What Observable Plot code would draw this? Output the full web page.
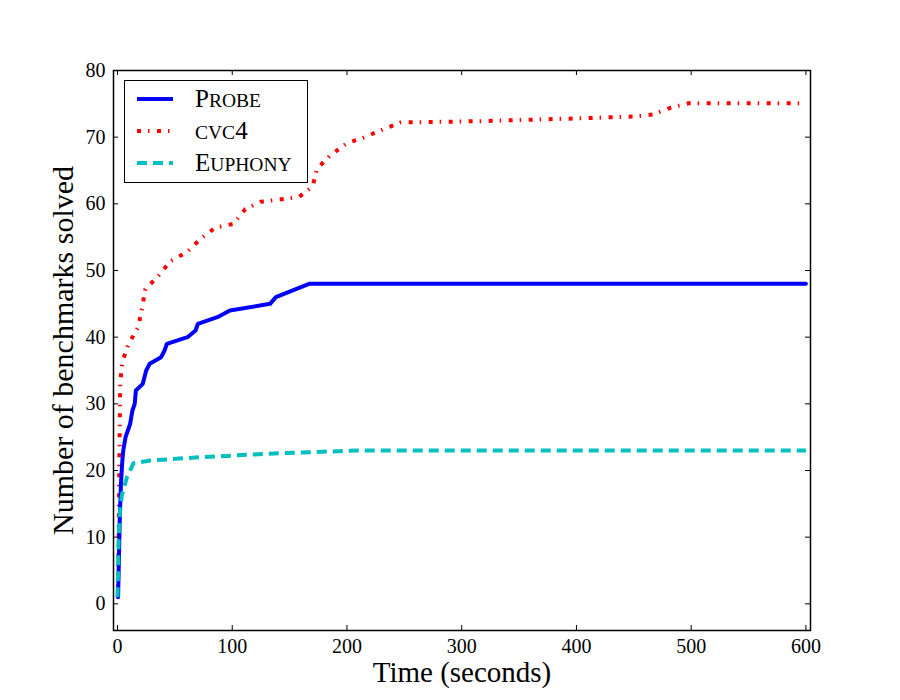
<!DOCTYPE html>
<html>
<head>
<meta charset="utf-8">
<script src="https://cdn.jsdelivr.net/npm/d3@7"></script>
<script src="https://cdn.jsdelivr.net/npm/@observablehq/plot@0.6"></script>
<style>
  html, body { margin: 0; padding: 0; background: #fff; }
  #chart { position: relative; width: 900px; height: 700px; }
  #legend {
    position: absolute; left: 124px; top: 80px; width: 184px; height: 103px;
    border: 1.5px solid #000; background: #fff; box-sizing: border-box;
    font-family: "Liberation Serif", serif; font-size: 25px;
  }
  .row { position: absolute; left: 0; height: 30px; display: flex; align-items: center; white-space: nowrap; }
  .row svg { margin-left: 12px; }
  .row span.lab { margin-left: 22px; }
  .sc { font-size: 19.5px; }
</style>
</head>
<body>
<div id="chart"></div>
<script>
// Series: time (s) and number of benchmarks solved
const probeTime = [0.5, 1, 2, 3, 4, 5, 7, 9, 11, 13, 15, 16, 22, 25, 28, 38, 41, 43, 61, 68, 70, 87, 98, 133, 138, 167, 600];
const probeSolved = [1, 5, 13, 18, 21, 23, 25, 26, 27, 29, 30, 32, 33, 35, 36, 37, 38, 39, 40, 41, 42, 43, 44, 45, 46, 48, 48];

const cvc4Time = [0.3, 1, 1.5, 2, 2.4, 4.2, 9.4, 18, 21.3, 24.3, 35.7, 46, 60.8, 72, 85, 101, 111.4, 124.5, 157.8, 170, 174, 185.6, 200, 214, 232, 246.6, 316, 398, 450, 466.7, 482, 498, 600];
const cvc4Solved = [1, 10, 20, 28, 33.2, 36.3, 38.9, 41.5, 44.3, 47.2, 49.2, 51.4, 52.8, 54.7, 56.4, 57, 59.2, 60.3, 61, 62.6, 65.3, 67.3, 69.1, 69.9, 71.2, 72.2, 72.4, 72.8, 73.1, 73.4, 74.4, 75.1, 75.1];

const euphonyTime = [0, 0.5, 1, 2, 3.8, 8.2, 14, 28.5, 72, 142, 210, 600];
const euphonySolved = [1, 5, 10, 13.5, 16.3, 19, 21.1, 21.5, 22, 22.6, 23, 23];

const xTicks = [0, 100, 200, 300, 400, 500, 600];
const yTicks = [0, 10, 20, 30, 40, 50, 60, 70, 80];

const xLabel = "Time (seconds)";
const yLabel = "Number of benchmarks solved";

const seriesNames = ["Probe", "cvc4", "Euphony"];
const seriesColors = ["#0000ff", "#ff0000", "#00bfbf"];
const seriesDash = [null, "4,7,1.5,7.5", "10,6"];

const toRows = (t, v) => t.map((d, i) => ({t: d, v: v[i]}));
const rows = [toRows(probeTime, probeSolved), toRows(cvc4Time, cvc4Solved), toRows(euphonyTime, euphonySolved)];

const W = 900, H = 700, mL = 113, mR = 90, mT = 70, mB = 70;
const innerW = W - mL - mR, innerH = H - mT - mB;
const tick = 5;

const plot = Plot.plot({
  width: W, height: H,
  marginLeft: mL, marginRight: mR, marginTop: mT, marginBottom: mB,
  style: {fontFamily: "'Liberation Serif', serif", fontSize: "20px", background: "#fff", color: "#000"},
  x: {domain: [-3.5, 604], ticks: xTicks},
  y: {domain: [-4, 80], ticks: yTicks},
  marks: [
    Plot.line(rows[1], {x: "t", y: "v", stroke: seriesColors[1], strokeWidth: 4, strokeDasharray: seriesDash[1], strokeLinecap: "butt"}),
    Plot.line(rows[0], {x: "t", y: "v", stroke: seriesColors[0], strokeWidth: 4}),
    Plot.line(rows[2], {x: "t", y: "v", stroke: seriesColors[2], strokeWidth: 4, strokeDasharray: seriesDash[2], strokeLinecap: "butt"}),
    // inward ticks on all four sides
    Plot.tickX(xTicks, {x: d => d, insetTop: innerH - tick, stroke: "#000", strokeWidth: 1}),
    Plot.tickX(xTicks, {x: d => d, insetBottom: innerH - tick, stroke: "#000", strokeWidth: 1}),
    Plot.tickY(yTicks, {y: d => d, insetRight: innerW - tick, stroke: "#000", strokeWidth: 1}),
    Plot.tickY(yTicks, {y: d => d, insetLeft: innerW - tick, stroke: "#000", strokeWidth: 1}),
    Plot.axisX(xTicks, {tickSize: 0, tickPadding: 8, label: null, fontSize: 20}),
    Plot.axisY(yTicks, {tickSize: 0, tickPadding: 8, label: null, fontSize: 20}),
    Plot.frame({stroke: "#000", strokeWidth: 1.5}),
    Plot.text([xLabel], {frameAnchor: "bottom", dy: 42, lineAnchor: "middle", textAnchor: "middle", fontSize: 29, fill: "#000"}),
    Plot.text([yLabel], {frameAnchor: "left", dx: -50, rotate: -90, textAnchor: "middle", lineAnchor: "middle", fontSize: 30, fill: "#000"})
  ]
});

const chart = document.getElementById("chart");
chart.appendChild(plot);

// legend with manual small caps
function smallCaps(name) {
  let out = "";
  for (const ch of name) {
    if (ch >= "a" && ch <= "z") out += `<span class="sc">${ch.toUpperCase()}</span>`;
    else out += ch;
  }
  return out;
}
const legend = document.createElement("div");
legend.id = "legend";
seriesNames.forEach((name, i) => {
  const row = document.createElement("div");
  row.className = "row";
  row.style.top = (3 + i * 32) + "px";
  const dash = seriesDash[i] ? `stroke-dasharray="${seriesDash[i]}"` : "";
  row.innerHTML = `<svg width="36" height="10"><line x1="0" y1="5" x2="36" y2="5" stroke="${seriesColors[i]}" stroke-width="4" ${dash}/></svg><span class="lab">${smallCaps(name)}</span>`;
  legend.appendChild(row);
});
chart.appendChild(legend);
</script>
</body>
</html>
